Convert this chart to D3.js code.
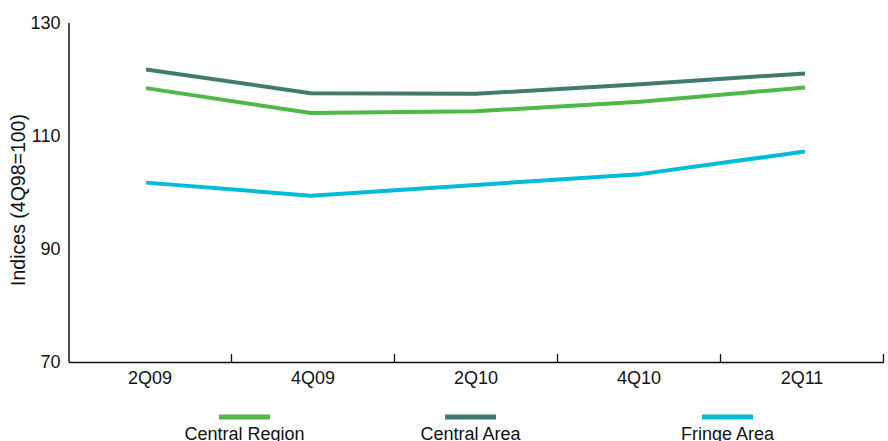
<!DOCTYPE html>
<html>
<head>
<meta charset="utf-8">
<script src="https://cdn.jsdelivr.net/npm/d3@7"></script>
<style>
  body { margin: 0; background: #fff; }
  text { font-family: "Liberation Sans", Arial, sans-serif; fill: #111; }
</style>
</head>
<body>
<svg id="chart" width="888" height="441"></svg>
<script>
var periods = ["2Q09", "4Q09", "2Q10", "4Q10", "2Q11"];
var yTicks = [70, 90, 110, 130];
var seriesNames = ["Central Region", "Central Area", "Fringe Area"];
var centralRegion = [118.4, 114.0, 114.3, 116.0, 118.5];
var centralArea = [121.7, 117.5, 117.4, 119.1, 121.0];
var fringeArea = [101.7, 99.4, 101.3, 103.2, 107.2];

var colors = ["#4fb848", "#437a6f", "#00bcd8"];
var allSeries = [centralRegion, centralArea, fringeArea];

var svg = d3.select("#chart");

var x = d3.scaleBand()
    .domain(periods)
    .range([68.5, 883.5]);

// line points sit a bit off the band centres in the original
var xp = d3.scalePoint()
    .domain(periods)
    .range([146, 805]);

var y = d3.scaleLinear()
    .domain([70, 130])
    .range([362, 22.5]);

// y axis
svg.append("g")
    .attr("transform", "translate(68.5,0)")
    .call(d3.axisLeft(y).tickValues(yTicks).tickSize(0).tickPadding(8).tickSizeOuter(0))
    .call(g => g.select(".domain").attr("stroke", "#111").attr("stroke-width", 1.5))
    .call(g => g.selectAll("text").attr("font-size", 18).attr("font-family", "Liberation Sans, Arial, sans-serif").attr("fill", "#111"));

// x axis
svg.append("g")
    .attr("transform", "translate(0,362)")
    .call(d3.axisBottom(x).tickSize(0).tickPadding(9).tickSizeOuter(0))
    .call(g => g.select(".domain").attr("stroke", "#111").attr("stroke-width", 1.5))
    .call(g => g.selectAll("text").attr("font-size", 18).attr("font-family", "Liberation Sans, Arial, sans-serif").attr("fill", "#111"));

// tick marks at band edges, pointing up
var edges = periods.map(p => x(p) + x.bandwidth());
svg.append("g").selectAll("line")
    .data(edges)
    .enter()
    .append("line")
    .attr("x1", d => d)
    .attr("x2", d => d)
    .attr("y1", 362)
    .attr("y2", 354)
    .attr("stroke", "#111")
    .attr("stroke-width", 1.3);

svg.append("text")
    .attr("transform", "translate(25,200) rotate(-90)")
    .attr("text-anchor", "middle")
    .attr("font-size", 19.5)
    .text("Indices (4Q98=100)");

var line = d3.line()
    .x((d, i) => xp(periods[i]))
    .y(d => y(d));

svg.selectAll(".series")
    .data(allSeries)
    .enter()
    .append("path")
    .attr("class", "series")
    .attr("d", d => line(d))
    .attr("fill", "none")
    .attr("stroke", (d, i) => colors[i])
    .attr("stroke-width", 4)
    .attr("stroke-linejoin", "round");

// legend
var legendX = [244.5, 470.5, 727.5];
var legend = svg.selectAll(".legend")
    .data(seriesNames)
    .enter()
    .append("g")
    .attr("class", "legend")
    .attr("transform", (d, i) => "translate(" + legendX[i] + ",0)");

legend.append("rect")
    .attr("x", -25.5)
    .attr("y", 414.5)
    .attr("width", 51)
    .attr("height", 5)
    .attr("fill", (d, i) => colors[i]);

legend.append("text")
    .attr("y", 439.5)
    .attr("text-anchor", "middle")
    .attr("font-size", 18)
    .text(d => d);
</script>
</body>
</html>
